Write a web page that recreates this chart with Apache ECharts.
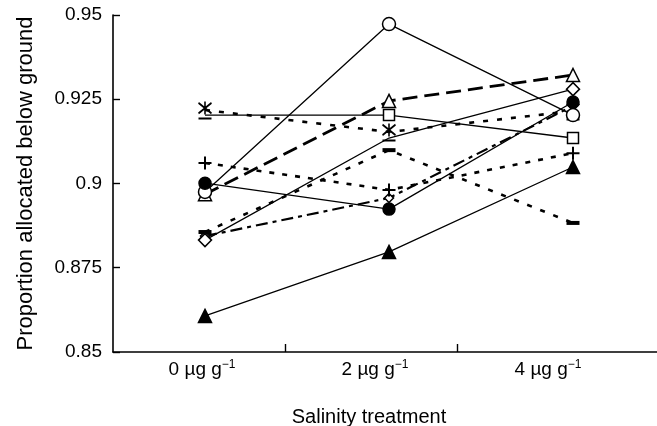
<!DOCTYPE html>
<html><head><meta charset="utf-8">
<script src="https://cdn.jsdelivr.net/npm/echarts@6/dist/echarts.min.js"></script>
<style>html,body{margin:0;padding:0;background:#fff}#c{width:657px;height:426px}</style>
</head><body><div id="c"></div>
<script>
const categories = ['0', '2', '4'];
const categoryUnit = 'µg g';
const categorySup = '−1';
const yTicks = [0.85, 0.875, 0.9, 0.925, 0.95];
const xTitle = 'Salinity treatment';
const yTitle = 'Proportion allocated below ground';

const openCircle     = [0.8975, 0.9473, 0.9203];
const filledCircle   = [0.9001, 0.8924, 0.9242];
const openTriangle   = [0.8968, 0.9245, 0.9322];
const filledTriangle = [0.8607, 0.8797, 0.9049];
const openSquare     = [0.9203, 0.9203, 0.9135];
const starSeries     = [0.9218, 0.9153, 0.9215];
const plusSeries     = [0.9061, 0.8981, 0.9090];
const dashSeries     = [0.8856, 0.9099, 0.8883];
const diamondSeries  = [0.8832, 0.9135, 0.9280];
const smallDiamond   = [0.8844, 0.8957, 0.9230];

const FONT = "'Liberation Sans', Arial, Helvetica, sans-serif";
const STAR = 'path://M0,1 L10,9 M10,1 L0,9 M5,0 L5,10 M0,13 L10,13';
const PLUS = 'path://M5,0 L5,10 M0,5 L10,5';

function pts(arr, hide) {
  return arr.map((v, i) => {
    const d = { value: [i, v] };
    if (hide && hide.indexOf(i) >= 0) { d.symbolSize = 0; }
    return d;
  });
}
function mk(name, arr, o) {
  return {
    name: name, type: 'line', data: pts(arr, o.hide),
    symbol: o.symbol, symbolSize: o.size, symbolKeepAspect: false,
    z: o.z || 2,
    itemStyle: { color: o.fill, borderColor: '#000', borderWidth: o.bw == null ? 1.5 : o.bw },
    lineStyle: { color: '#000', width: o.lw || 1.3, type: o.dash || 'solid' },
    emphasis: { disabled: true }, animation: false
  };
}

const series = [
  mk('openTriangle', openTriangle, { symbol: 'triangle', size: 13, fill: '#fff', lw: 2.8, dash: [15, 7], z: 2 }),
  mk('filledTriangle', filledTriangle, { symbol: 'triangle', size: 13, fill: '#000', z: 3 }),
  mk('openSquare', openSquare, { symbol: 'rect', size: 11, fill: '#fff', z: 3, hide: [0] }),
  mk('smallDiamond', smallDiamond, { symbol: 'diamond', size: 9, fill: '#fff', lw: 2.2, dash: [12, 5, 4, 5], z: 3 }),
  mk('dash', dashSeries, { symbol: 'rect', size: [13, 4], fill: '#000', bw: 0, lw: 2.6, dash: [5, 9], z: 3 }),
  mk('diamond', diamondSeries, { symbol: 'diamond', size: 13, fill: '#fff', z: 4, hide: [1] }),
  mk('plus', plusSeries, { symbol: PLUS, size: 13, fill: 'none', bw: 2, lw: 2.6, dash: [5, 8], z: 4 }),
  mk('star', starSeries, { symbol: STAR, size: [13, 17], fill: 'none', bw: 1.8, lw: 2.6, dash: [5, 9], z: 4 }),
  mk('openCircle', openCircle, { symbol: 'circle', size: 13, fill: '#fff', z: 5 }),
  mk('filledCircle', filledCircle, { symbol: 'circle', size: 12, fill: '#000', z: 6 })
];

const chart = echarts.init(document.getElementById('c'), null, { renderer: 'canvas' });
chart.setOption({
  animation: false,
  backgroundColor: '#fff',
  grid: { left: 113, right: 0, top: 15, bottom: 74, containLabel: false, outerBoundsMode: 'none' },
  xAxis: {
    type: 'value', min: -0.5, max: 2.4565,
    name: xTitle, nameLocation: 'middle', nameGap: 55,
    nameTextStyle: { fontFamily: FONT, fontSize: 20, color: '#000', padding: [0, 32, 0, 0] },
    axisLine: { show: true, onZero: false, lineStyle: { color: '#000', width: 1.6 } },
    axisTick: { show: true, inside: true, length: 8, customValues: [0.435, 1.37], lineStyle: { color: '#000', width: 1.4 } },
    axisLabel: {
      customValues: [-0.016, 0.924, 1.864], margin: 7, color: '#000', fontFamily: FONT, fontSize: 19,
      formatter: v => '{a|' + categories[Math.round(v)] + ' ' + categoryUnit + '}{s|' + categorySup + '}',
      rich: {
        a: { fontFamily: FONT, fontSize: 19, color: '#000' },
        s: { fontFamily: FONT, fontSize: 12, color: '#000', padding: [0, 0, 9, 0] }
      }
    },
    splitLine: { show: false }
  },
  yAxis: {
    type: 'value', min: yTicks[0], max: yTicks[yTicks.length - 1], interval: 0.025,
    name: yTitle, nameLocation: 'middle', nameGap: 76,
    nameTextStyle: { fontFamily: FONT, fontSize: 22, color: '#000' },
    axisLine: { show: true, onZero: false, lineStyle: { color: '#000', width: 1.6 } },
    axisTick: { show: true, inside: true, length: 7, lineStyle: { color: '#000', width: 1.4 } },
    axisLabel: { margin: 11, color: '#000', fontFamily: FONT, fontSize: 19,
      formatter: v => String(parseFloat(v.toFixed(3))) },
    splitLine: { show: false }
  },
  series: series
});
</script></body></html>
